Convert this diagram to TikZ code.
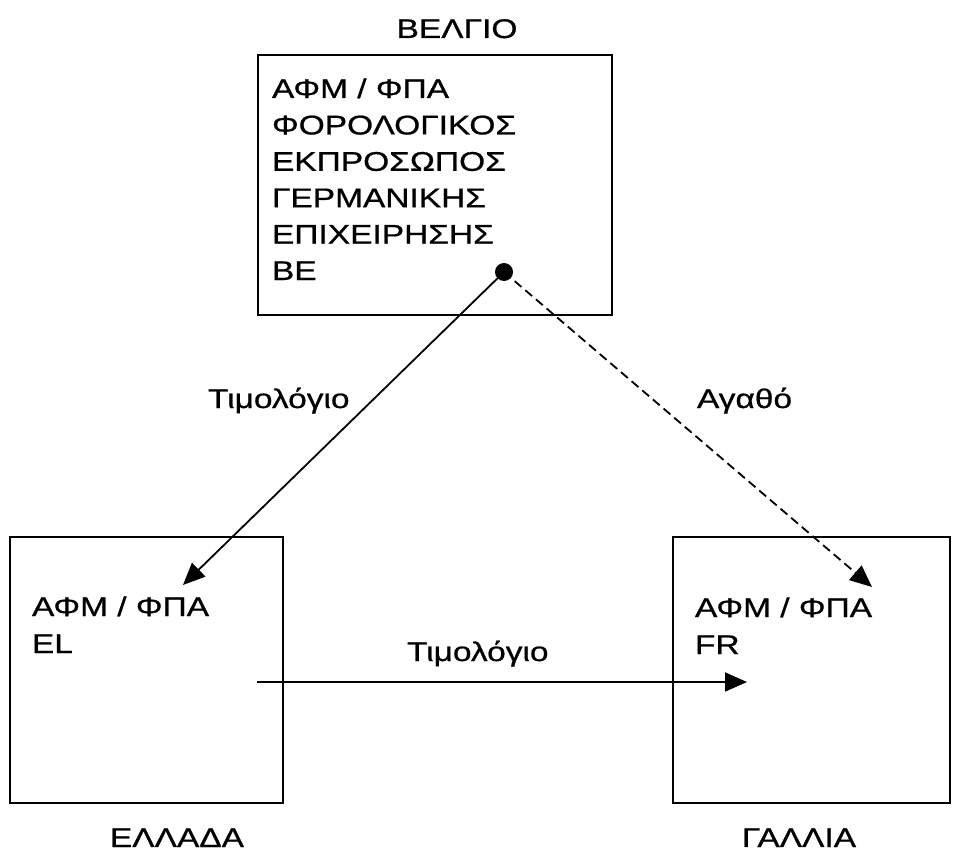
\documentclass[tikz,border=0pt]{standalone}
\usepackage{fontspec}
\setmainfont{Liberation Sans}[FakeStretch=1.24, FakeBold=0.8]
\usetikzlibrary{arrows.meta}
\begin{document}
\begin{tikzpicture}[x=1pt,y=-1pt,
  every node/.style={inner sep=0pt, outer sep=0pt, font=\fontsize{27}{32}\selectfont},
  box/.style={draw, line width=2pt, anchor=north west},
  txt/.style={anchor=base west},
  lbl/.style={anchor=base},
  flow/.style={line width=1.8pt, -{Triangle[length=22pt,width=19pt]}},
  goods/.style={flow, dash pattern=on 9pt off 5pt}]
\useasboundingbox (0,0) rectangle (963,853);

% country boxes
\node[box, minimum width=354pt, minimum height=260pt] (be) at (258,55) {};
\node[box, minimum width=273pt, minimum height=266pt] (el) at (10,537) {};
\node[box, minimum width=277pt, minimum height=266pt] (fr) at (673,537) {};

% country names
\node[lbl] (beName) at (457,38) {ΒΕΛΓΙΟ};
\node[lbl] (elName) at (177,847) {ΕΛΛΑΔΑ};
\node[lbl] (frName) at (799,847) {ΓΑΛΛΙΑ};

% contents of the Belgian box
\node[txt] (be1) at (272,98)    {ΑΦΜ / ΦΠΑ};
\node[txt] (be2) at (272,134.4) {ΦΟΡΟΛΟΓΙΚΟΣ};
\node[txt] (be3) at (272,170.8) {ΕΚΠΡΟΣΩΠΟΣ};
\node[txt] (be4) at (272,207.2) {ΓΕΡΜΑΝΙΚΗΣ};
\node[txt] (be5) at (272,243.6) {ΕΠΙΧΕΙΡΗΣΗΣ};
\node[txt] (be6) at (272,280)   {ΒΕ};

% contents of the Greek and French boxes
\node[txt] (el1) at (32,616)  {ΑΦΜ / ΦΠΑ};
\node[txt] (el2) at (32,653)  {EL};
\node[txt] (fr1) at (695,617) {ΑΦΜ / ΦΠΑ};
\node[txt] (fr2) at (695,654) {FR};

% origin of the flows
\node[circle, fill, minimum size=18pt] (dot) at (504,272) {};

\coordinate (elIn) at (183,585);
\coordinate (frIn) at (872,587);
\coordinate (elOut) at (257,682);
\coordinate (frOut) at (747,682);

\draw[flow] (dot.center) -- (elIn);
\draw[goods] (dot.center) -- (frIn);
\draw[flow] (elOut) -- (frOut);

% flow labels
\node[txt] (invTop) at (208,408) {Τιμολόγιο};
\node[txt] (goodsLbl) at (697,408) {Αγαθό};
\node[txt] (invBottom) at (407,661) {Τιμολόγιο};
\end{tikzpicture}
\end{document}
